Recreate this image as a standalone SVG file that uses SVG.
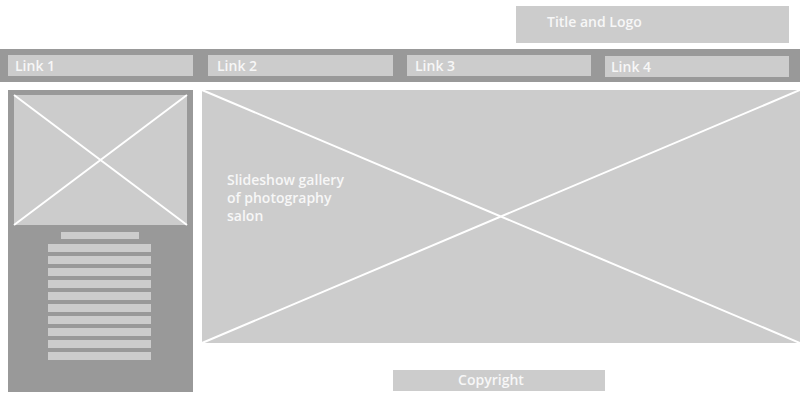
<svg xmlns="http://www.w3.org/2000/svg" width="800" height="400" viewBox="0 0 800 400">
  <style>
    .dark { fill: #999999; }
    .light { fill: #cccccc; }
    .cross { stroke: #ffffff; stroke-width: 2; fill: none; }
    .label { font-family: "Open Sans", "Noto Sans", "Liberation Sans", sans-serif; font-size: 14px; font-weight: 600; fill: #f7f7f7; }
  </style>
  <rect width="800" height="400" fill="#ffffff"/>

  <g id="title">
    <rect class="light" x="516" y="6" width="273" height="37"/>
    <text class="label" x="547" y="27">Title and Logo</text>
  </g>

  <g id="nav">
    <rect class="dark" x="0" y="49" width="800" height="33"/>
    <g id="link1">
      <rect class="light" x="8" y="55" width="185" height="21"/>
      <text class="label" x="15" y="71">Link 1</text>
    </g>
    <g id="link2">
      <rect class="light" x="208" y="55" width="185" height="21"/>
      <text class="label" x="217" y="71">Link 2</text>
    </g>
    <g id="link3">
      <rect class="light" x="407" y="55" width="184" height="21"/>
      <text class="label" x="415" y="71">Link 3</text>
    </g>
    <g id="link4">
      <rect class="light" x="605" y="56" width="184" height="21"/>
      <text class="label" x="611" y="72">Link 4</text>
    </g>
  </g>

  <g id="sidebar">
    <rect class="dark" x="8" y="90" width="185" height="302"/>
    <rect class="light" x="14" y="95" width="173" height="130"/>
    <path class="cross" d="M14 95 L187 225 M187 95 L14 225"/>
    <rect class="light" x="61" y="232" width="78" height="7"/>
    <g class="light">
      <rect x="48" y="244" width="103" height="8"/>
      <rect x="48" y="256" width="103" height="8"/>
      <rect x="48" y="268" width="103" height="8"/>
      <rect x="48" y="280" width="103" height="8"/>
      <rect x="48" y="292" width="103" height="8"/>
      <rect x="48" y="304" width="103" height="8"/>
      <rect x="48" y="316" width="103" height="8"/>
      <rect x="48" y="328" width="103" height="8"/>
      <rect x="48" y="340" width="103" height="8"/>
      <rect x="48" y="352" width="103" height="8"/>
    </g>
  </g>

  <g id="slideshow">
    <rect class="light" x="202" y="90" width="598" height="253"/>
    <path class="cross" d="M202 90 L800 343 M800 90 L202 343"/>
    <text class="label" x="227" y="185">Slideshow gallery</text>
    <text class="label" x="227" y="203">of photography</text>
    <text class="label" x="227" y="221">salon</text>
  </g>

  <g id="footer">
    <rect class="light" x="393" y="370" width="212" height="21"/>
    <text class="label" x="491" y="385" text-anchor="middle">Copyright</text>
  </g>
</svg>
